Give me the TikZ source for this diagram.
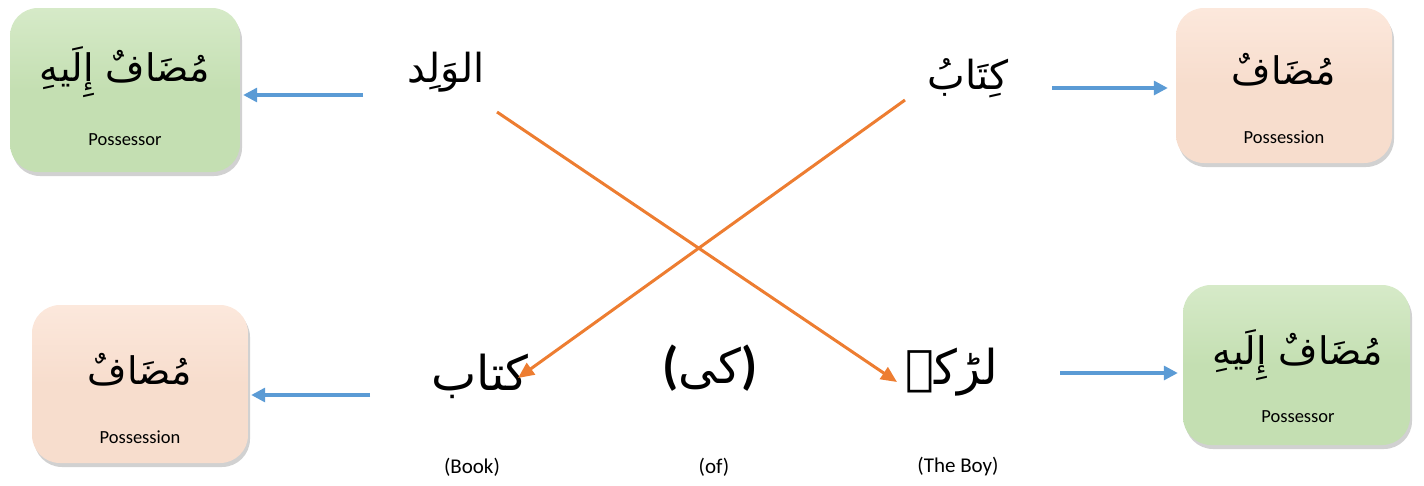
\documentclass[tikz,border=0pt]{standalone}
\usepackage{fontspec}
\setmainfont{Carlito}
\newfontfamily\arabicfont[Script=Arabic]{DejaVu Sans}
\TeXXeTstate=1
\usetikzlibrary{shadows,arrows.meta}
\definecolor{boxgreen}{RGB}{196,223,178}
\definecolor{boxgreentop}{RGB}{214,234,200}
\definecolor{boxpeach}{RGB}{247,221,205}
\definecolor{boxpeachtop}{RGB}{252,232,220}
\definecolor{arrblue}{RGB}{91,155,213}
\definecolor{arrorange}{RGB}{237,125,49}
\tikzset{
  roundbox/.style={rounded corners=28pt, draw=none,
    drop shadow={shadow xshift=2pt, shadow yshift=-4pt, opacity=0.3, fill=black!60}},
  greenbox/.style={roundbox, top color=boxgreentop, bottom color=boxgreen, middle color=boxgreen},
  peachbox/.style={roundbox, top color=boxpeachtop, bottom color=boxpeach, middle color=boxpeach},
  boxar/.style={font=\fontsize{38}{44}\arabicfont, inner sep=0pt},
  wordar/.style={font=\fontsize{40}{46}\arabicfont, inner sep=0pt},
  urdu/.style={font=\fontsize{48}{54}\arabicfont, inner sep=0pt},
  paren/.style={font=\fontsize{52}{58}\bfseries, inner sep=0pt},
  eng/.style={font=\fontsize{18.5}{22}\selectfont, inner sep=0pt},
  lbl/.style={font=\fontsize{21}{25}\selectfont, inner sep=0pt},
  bluearrow/.style={draw=arrblue, line width=3.2pt, -{Triangle[length=14pt,width=14pt]}},
  orangearrow/.style={draw=arrorange, line width=3pt, -{Triangle[length=16pt,width=14pt]}}
}
\begin{document}
\begin{tikzpicture}[x=1pt,y=-1pt]
\useasboundingbox (0,0) rectangle (1424,485);
% boxes
\node[greenbox, minimum width=230pt, minimum height=164pt] (tlbox) at (125,90) {};
\node[peachbox, minimum width=216pt, minimum height=155pt] (trbox) at (1284,85.5) {};
\node[peachbox, minimum width=216pt, minimum height=158pt] (blbox) at (140,384) {};
\node[greenbox, minimum width=227pt, minimum height=160pt] (brbox) at (1296.5,365) {};
% box texts
\node[boxar] (tlar) at (125,72) {\beginR مُضَافٌ إِلَيهِ\endR};
\node[eng] (tlen) at (125,140) {Possessor};
\node[boxar] (trar) at (1284,70) {\beginR مُضَافٌ\endR};
\node[eng] (tren) at (1284,137) {Possession};
\node[boxar] (blar) at (140,370) {\beginR مُضَافٌ\endR};
\node[eng] (blen) at (140,437) {Possession};
\node[boxar] (brar) at (1298,355) {\beginR مُضَافٌ إِلَيهِ\endR};
\node[eng] (bren) at (1298,417) {Possessor};
% words
\node[wordar] (walad) at (446,72) {\beginR الوَلِد\endR};
\node[wordar] (kitab) at (968,78) {\beginR كِتَابُ\endR};
\node[urdu] (kitabu) at (480,376) {\beginR کتاب\endR};
\node[urdu] (ki) at (710,368) {{\normalfont\fontsize{52}{58}\bfseries(}\beginR کی\endR{\normalfont\fontsize{52}{58}\bfseries)}};
\node[urdu] (larke) at (952,372) {\beginR لڑکے\endR};
\node[lbl] (book) at (472,467) {(Book)};
\node[lbl] (of) at (714,467) {(of)};
\node[lbl] (boy) at (958,467) {(The Boy)};
% blue arrows
\coordinate (b1) at (363,95);
\coordinate (b2) at (1052,88);
\coordinate (b3) at (370,395);
\coordinate (b4) at (1060,373);
\draw[bluearrow, shorten >=3pt] (b1) -- (b1 -| tlbox.east);
\draw[bluearrow, shorten >=8pt] (b2) -- (b2 -| trbox.west);
\draw[bluearrow, shorten >=3pt] (b3) -- (b3 -| blbox.east);
\draw[bluearrow, shorten >=5pt] (b4) -- (b4 -| brbox.west);
% orange arrows
\coordinate (o1s) at (497,112);
\coordinate (o1e) at (897,382);
\coordinate (o2s) at (905,100);
\coordinate (o2e) at (518,378);
\draw[orangearrow] (o1s) -- (o1e);
\draw[orangearrow] (o2s) -- (o2e);
\end{tikzpicture}
\end{document}
